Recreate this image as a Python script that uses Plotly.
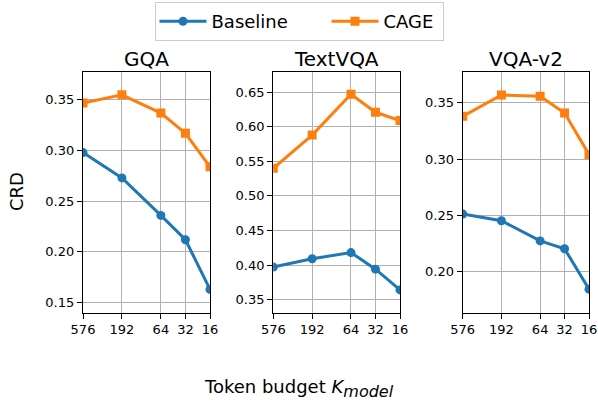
import plotly.graph_objects as go
from plotly.subplots import make_subplots
import math

budgets = [576, 192, 64, 32, 16]
tick_labels = ["576", "192", "64", "32", "16"]
datasets = ["GQA", "TextVQA", "VQA-v2"]

baseline_gqa = [0.298, 0.273, 0.236, 0.212, 0.163]
cage_gqa = [0.347, 0.355, 0.337, 0.317, 0.284]
baseline_textvqa = [0.397, 0.409, 0.418, 0.394, 0.364]
cage_textvqa = [0.540, 0.588, 0.647, 0.621, 0.609]
baseline_vqav2 = [0.251, 0.245, 0.227, 0.220, 0.184]
cage_vqav2 = [0.338, 0.357, 0.356, 0.341, 0.304]

baselines = [baseline_gqa, baseline_textvqa, baseline_vqav2]
cages = [cage_gqa, cage_textvqa, cage_vqav2]
y_ranges = [[0.140, 0.378], [0.331, 0.680], [0.163, 0.378]]
y_ticks = [[0.15, 0.20, 0.25, 0.30, 0.35],
           [0.35, 0.40, 0.45, 0.50, 0.55, 0.60, 0.65],
           [0.20, 0.25, 0.30, 0.35]]

BLUE = "#1f77b4"
ORANGE = "#ff7f0e"
FONT = "DejaVu Sans"
W, H = 598, 412

fig = make_subplots(rows=1, cols=3)

for i in range(3):
    fig.add_trace(go.Scatter(
        x=budgets, y=baselines[i], mode="lines+markers", name="Baseline",
        line=dict(color=BLUE, width=3), marker=dict(symbol="circle", size=9, color=BLUE),
        showlegend=(i == 0), legendgroup="b"), row=1, col=i + 1)
    fig.add_trace(go.Scatter(
        x=budgets, y=cages[i], mode="lines+markers", name="CAGE",
        line=dict(color=ORANGE, width=3), marker=dict(symbol="square", size=9, color=ORANGE),
        showlegend=(i == 0), legendgroup="c", legendwidth=54), row=1, col=i + 1)

x_domains = [[83 / W, 210 / W], [273.3 / W, 400 / W], [462.7 / W, 589 / W]]
y_domain = [(H - 312.7) / H, (H - 71.5) / H]

for i in range(3):
    xa = "xaxis" if i == 0 else f"xaxis{i + 1}"
    ya = "yaxis" if i == 0 else f"yaxis{i + 1}"
    fig.layout[xa].update(
        type="log", range=[math.log10(576), math.log10(16)], domain=x_domains[i],
        tickvals=budgets, ticktext=tick_labels, showgrid=True, gridcolor="#b0b0b0", gridwidth=1,
        showline=True, linecolor="black", linewidth=1.3, mirror=True,
        ticks="outside", ticklen=5, tickcolor="black", tickwidth=1.2, automargin=False,
        tickfont=dict(family=FONT, size=13, color="black"), zeroline=False)
    fig.layout[ya].update(
        range=y_ranges[i], domain=y_domain,
        tickvals=y_ticks[i], ticktext=[f"{v:.2f}" for v in y_ticks[i]],
        showgrid=True, gridcolor="#b0b0b0", gridwidth=1,
        showline=True, linecolor="black", linewidth=1.3, mirror=True,
        ticks="outside", ticklen=5, tickcolor="black", tickwidth=1.2, automargin=False,
        tickfont=dict(family=FONT, size=13, color="black"), zeroline=False)
    fig.add_annotation(text=datasets[i], xref="paper", yref="paper",
                       x=(x_domains[i][0] + x_domains[i][1]) / 2, y=y_domain[1],
                       xanchor="center", yanchor="bottom", yshift=-2, showarrow=False,
                       font=dict(family=FONT, size=20, color="black"))

fig.add_annotation(text="CRD", xref="paper", yref="paper", x=16 / W,
                   y=(y_domain[0] + y_domain[1]) / 2, textangle=-90,
                   xanchor="center", yanchor="middle", showarrow=False,
                   font=dict(family=FONT, size=18, color="black"))
fig.add_annotation(
    text="Token budget <i>K</i><sub><span style=\"font-size:16px\"><i>model</i></span></sub>",
    xref="paper", yref="paper",
    x=0.5, y=(H - 388) / H, xanchor="center", yanchor="middle", showarrow=False,
    font=dict(family=FONT, size=18, color="black"))

fig.update_layout(
    width=W, height=H, margin=dict(l=0, r=0, t=0, b=0),
    paper_bgcolor="white", plot_bgcolor="white",
    font=dict(family=FONT, color="black"),
    legend=dict(orientation="h", x=0.5, xanchor="center", y=1 - 2 / H, yanchor="top",
                bordercolor="#cccccc", borderwidth=1, bgcolor="white",
                font=dict(family=FONT, size=18, color="black"),
                entrywidth=110, itemwidth=47),
)

fig.write_html("out.html", post_script="document.body.style.margin='0';",
               config={"displayModeBar": False})
